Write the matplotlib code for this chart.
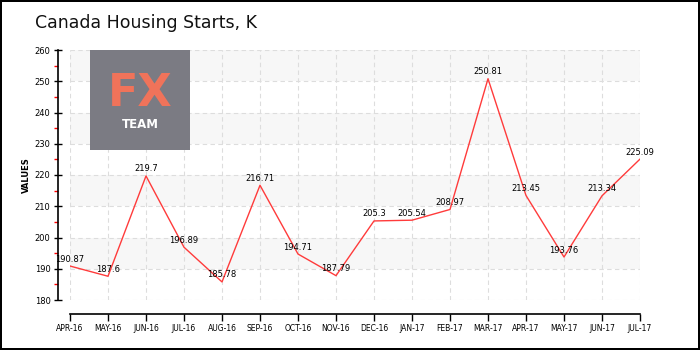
import matplotlib
matplotlib.use("Agg")
import matplotlib.pyplot as plt
from matplotlib.patches import Rectangle
from matplotlib.ticker import MultipleLocator
from matplotlib import font_manager

months = ["APR-16", "MAY-16", "JUN-16", "JUL-16", "AUG-16", "SEP-16", "OCT-16", "NOV-16",
          "DEC-16", "JAN-17", "FEB-17", "MAR-17", "APR-17", "MAY-17", "JUN-17", "JUL-17"]
values = [190.87, 187.6, 219.7, 196.89, 185.78, 216.71, 194.71, 187.79,
          205.3, 205.54, 208.97, 250.81, 213.45, 193.76, 213.34, 225.09]
labels = ["190.87", "187.6", "219.7", "196.89", "185.78", "216.71", "194.71", "187.79",
          "205.3", "205.54", "208.97", "250.81", "213.45", "193.76", "213.34", "225.09"]

names = {f.name for f in font_manager.fontManager.ttflist}
title_font = None
title_size = 15
for cand in ["Liberation Sans Narrow", "DejaVu Sans Condensed"]:
    if cand in names:
        title_font = cand
        break
if title_font is None:
    title_font = "DejaVu Sans"
    title_size = 12.5

fig = plt.figure(figsize=(7, 3.5), dpi=100)
fig.patch.set_facecolor("white")
fig.patch.set_edgecolor("black")
fig.patch.set_linewidth(1.5)

ax = fig.add_axes([70/700, 50/350, 570/700, 250/350])
x = list(range(len(months)))
ax.set_xlim(0, len(months) - 1)
ax.set_ylim(180, 260)

for lo in range(190, 260, 20):
    ax.axhspan(lo, lo + 10, color="#f7f7f7", zorder=0, lw=0)

ax.grid(True, which="major", color="#dddddd", linestyle=(0, (4, 3)), linewidth=0.8, zorder=1)
ax.set_axisbelow(True)

ax.plot(x, values, color="#ff3b3b", linewidth=1.0, zorder=3)
for xi, v, lab in zip(x, values, labels):
    ax.annotate(lab, (xi, v), xytext=(0, 5), textcoords="offset points",
                ha="center", va="center", fontsize=6, color="black", zorder=4)

ax.set_xticks(x)
ax.set_xticklabels(months)
ax.yaxis.set_major_locator(MultipleLocator(10))
ax.yaxis.set_minor_locator(MultipleLocator(5))
ax.tick_params(axis="y", which="major", direction="inout", length=6, width=1, labelsize=6,
               color="black", pad=2)
ax.tick_params(axis="y", which="minor", direction="out", length=3, width=1, color="red")
ax.tick_params(axis="x", which="major", direction="out", length=5, width=1, color="black",
               pad=2, labelsize=5.5)
ax.tick_params(axis="x", which="minor", length=0)

for s in ["top", "right"]:
    ax.spines[s].set_visible(False)
ax.spines["left"].set_position(("outward", 9))
ax.spines["bottom"].set_position(("outward", 10))
ax.spines["left"].set_linewidth(1.2)
ax.spines["bottom"].set_linewidth(1.2)
ax.set_facecolor("white")

ax.set_ylabel("VALUES", fontsize=6, fontweight="bold", labelpad=3)

fig.text(35/700, 1 - 23/350, "Canada Housing Starts, K", fontsize=title_size, family=title_font,
         ha="left", va="center", color="#111111")

# logo
fig.patches.append(Rectangle((90/700, 1 - 150/350), 100/700, 100/350, transform=fig.transFigure,
                             facecolor="#7b7b83", edgecolor="none", zorder=5))
fig.text(140/700, 1 - 93/350, "FX", fontsize=32, color="#f0735a", fontweight="semibold",
         ha="center", va="center", zorder=6)
fig.text(140/700, 1 - 124/350, "TEAM", fontsize=8.5, color="white", fontweight="bold",
         ha="center", va="center", zorder=6)

fig.savefig("out.png", dpi=100)
